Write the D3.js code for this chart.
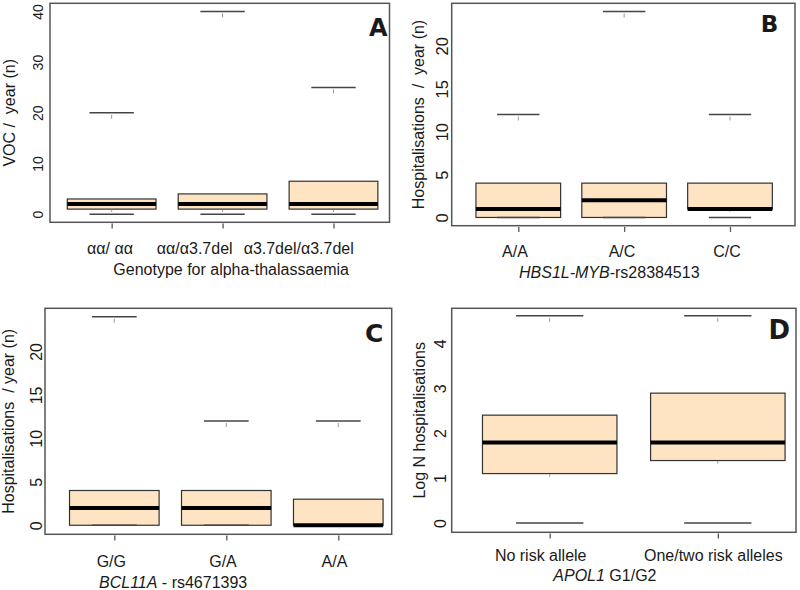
<!DOCTYPE html>
<html><head><meta charset="utf-8">
<script src="https://cdn.jsdelivr.net/npm/d3@7"></script>
<style>
html,body{margin:0;padding:0;background:#fff;}
svg{display:block;}
text{font-family:"Liberation Sans",Arial,sans-serif;fill:#1a1a1a;}
</style></head>
<body>
<svg id="chart" width="800" height="590"></svg>
<script>
// ---- Data ----
const aCategories = ["αα/ αα", "αα/α3.7del", "α3.7del/α3.7del"];
const aLow    = [0, 0, 0];
const aQ1     = [1, 1, 1];
const aMedian = [2, 2, 2];
const aQ3     = [3, 4, 6.5];
const aHigh   = [20, 40, 25];
const aYTicks = [0, 10, 20, 30, 40];

const bCategories = ["A/A", "A/C", "C/C"];
const bLow    = [0, 0, 0];
const bQ1     = [0, 0, 1];
const bMedian = [1, 2, 1];
const bQ3     = [4, 4, 4];
const bHigh   = [12, 24, 12];
const bYTicks = [0, 5, 10, 15, 20];

const cCategories = ["G/G", "G/A", "A/A"];
const cLow    = [0, 0, 0];
const cQ1     = [0, 0, 0];
const cMedian = [2, 2, 0];
const cQ3     = [4, 4, 3];
const cHigh   = [24, 12, 12];
const cYTicks = [0, 5, 10, 15, 20];

const dCategories = ["No risk allele", "One/two risk alleles"];
const dLow    = [0, 0];
const dQ1     = [1.10, 1.39];
const dMedian = [1.79, 1.79];
const dQ3     = [2.40, 2.89];
const dHigh   = [4.61, 4.61];
const dYTicks = [0, 1, 2, 3, 4];

// ---- Layout ----
const panels = [
  {cats:aCategories, low:aLow, q1:aQ1, med:aMedian, q3:aQ3, high:aHigh, yTicks:aYTicks,
   letter:"A", yTitle:[{t:"VOC /  year (n)"}], xTitle:[{t:"Genotype for alpha-thalassaemia"}],
   L:{left:50, right:389.5, top:3.3, bottom:222.3, xDomain:[0.444,3.505], yDomain:[-1.6,41.6],
      labelX:[110,194.7,298.7], labelY:254, tickFont:14, tickGap:6.7, yTitleX:14.5,
      letterX:387.7, letterY:36, letterSize:24, titleX:113.3, titleY:275}},
  {cats:bCategories, low:bLow, q1:bQ1, med:bMedian, q3:bQ3, high:bHigh, yTicks:bYTicks,
   letter:"B", yTitle:[{t:"Hospitalisations  /  year (n)"}], xTitle:[{t:"HBS1L-MYB", i:true},{t:"-rs28384513"}],
   L:{left:451.7, right:795, top:3.3, bottom:225.7, xDomain:[0.371,3.614], yDomain:[-0.96,24.96],
      labelX:[515,622,727], labelY:256.5, tickFont:16.5, tickGap:3.4, yTitleX:424,
      letterX:778.3, letterY:31.7, letterSize:23, titleX:519, titleY:277.7}},
  {cats:cCategories, low:cLow, q1:cQ1, med:cMedian, q3:cQ3, high:cHigh, yTicks:cYTicks,
   letter:"C", yTitle:[{t:"Hospitalisations  / year (n)"}], xTitle:[{t:"BCL11A", i:true},{t:" - rs4671393"}],
   L:{left:45, right:391.7, top:308.3, bottom:534.3, xDomain:[0.381,3.477], yDomain:[-1.04,24.97],
      labelX:[111.3,223,334.5], labelY:566.5, tickFont:16, tickGap:3.3, yTitleX:14,
      letterX:383.3, letterY:341.7, letterSize:25, titleX:99, titleY:588.3}},
  {cats:dCategories, low:dLow, q1:dQ1, med:dMedian, q3:dQ3, high:dHigh, yTicks:dYTicks,
   letter:"D", yTitle:[{t:"Log N hospitalisations"}], xTitle:[{t:"APOL1", i:true},{t:" G1/G2"}],
   L:{left:451.7, right:796, top:308.3, bottom:532.3, xDomain:[0.417,2.465], yDomain:[-0.207,4.778],
      labelX:[540.7,713.3], labelY:560.5, tickFont:16, tickGap:6, yTitleX:425,
      letterX:790, letterY:339.3, letterSize:26, titleX:553.3, titleY:580.7}}
];

const svg = d3.select("#chart");
const FILL = "#FFE4C4";

panels.forEach(p => {
  const L = p.L;
  const x = d3.scaleLinear().domain(L.xDomain).range([L.left, L.right]);
  const y = d3.scaleLinear().domain(L.yDomain).range([L.bottom, L.top]);
  const g = svg.append("g");
  const idx = p.cats.map((c,i)=>i);
  const pos = i => i + 1;

  // boxes
  g.selectAll("rect.box").data(idx).join("rect")
    .attr("x", i => x(pos(i) - 0.4))
    .attr("width", i => x(pos(i) + 0.4) - x(pos(i) - 0.4))
    .attr("y", i => y(p.q3[i]))
    .attr("height", i => y(p.q1[i]) - y(p.q3[i]))
    .attr("fill", FILL).attr("stroke", "#333").attr("stroke-width", 1.2);

  // caps
  g.selectAll("line.capHi").data(idx).join("line")
    .attr("x1", i => x(pos(i) - 0.2)).attr("x2", i => x(pos(i) + 0.2))
    .attr("y1", i => y(p.high[i])).attr("y2", i => y(p.high[i]))
    .attr("stroke", "#444").attr("stroke-width", 1.5);
  g.selectAll("line.capLo").data(idx).join("line")
    .attr("x1", i => x(pos(i) - 0.2)).attr("x2", i => x(pos(i) + 0.2))
    .attr("y1", i => y(p.low[i])).attr("y2", i => y(p.low[i]))
    .attr("stroke", "#444").attr("stroke-width", 1.5);

  // whisker fragments
  g.selectAll("line.wHi").data(idx).join("line")
    .attr("x1", i => x(pos(i))).attr("x2", i => x(pos(i)))
    .attr("y1", i => y(p.high[i]) + 2).attr("y2", i => y(p.high[i]) + 6)
    .attr("stroke", "#999").attr("stroke-width", 1);
  g.selectAll("line.wLo").data(idx.filter(i => p.low[i] < p.q1[i])).join("line")
    .attr("x1", i => x(pos(i))).attr("x2", i => x(pos(i)))
    .attr("y1", i => y(p.q1[i]) + 0.5).attr("y2", i => y(p.q1[i]) + 3)
    .attr("stroke", "#999").attr("stroke-width", 1);

  // medians
  g.selectAll("line.med").data(idx).join("line")
    .attr("x1", i => x(pos(i) - 0.4)).attr("x2", i => x(pos(i) + 0.4))
    .attr("y1", i => y(p.med[i])).attr("y2", i => y(p.med[i]))
    .attr("stroke", "#000").attr("stroke-width", 4);

  // frame
  g.append("rect").attr("x", L.left).attr("y", L.top)
    .attr("width", L.right - L.left).attr("height", L.bottom - L.top)
    .attr("fill", "none").attr("stroke", "#555").attr("stroke-width", 1.5);

  // x axis ticks
  const xa = g.append("g").attr("transform", `translate(0,${L.bottom + 1.2})`)
    .call(d3.axisBottom(x).tickValues(idx.map(pos)).tickSize(5).tickSizeOuter(0).tickFormat(""));
  xa.select(".domain").remove();
  xa.selectAll(".tick line").attr("stroke", "#555").attr("stroke-width", 1.3);

  // x labels
  g.selectAll("text.xl").data(idx).join("text")
    .attr("x", i => L.labelX[i]).attr("y", L.labelY)
    .attr("text-anchor", "middle").style("font-size", "16px")
    .text(i => p.cats[i]);

  // y axis labels (rotated, no tick marks)
  const ya = g.append("g").attr("transform", `translate(${L.left},0)`)
    .call(d3.axisLeft(y).tickValues(p.yTicks).tickSize(0).tickFormat(d3.format("d")));
  ya.select(".domain").remove();
  ya.selectAll(".tick text")
    .attr("transform", "rotate(-90)")
    .attr("x", 0).attr("y", -L.tickGap).attr("dy", null)
    .attr("text-anchor", "middle")
    .style("font-family", '"Liberation Sans",Arial,sans-serif')
    .style("font-size", L.tickFont + "px").attr("fill", "#1a1a1a");

  // y title
  const yt = g.append("text")
    .attr("transform", `translate(${L.yTitleX},${(L.top + L.bottom) / 2}) rotate(-90)`)
    .attr("text-anchor", "middle").style("font-size", "16px");
  p.yTitle.forEach(s => yt.append("tspan").text(s.t).attr("xml:space","preserve"));
  yt.style("white-space", "pre");

  // x title
  const xt = g.append("text").attr("x", L.titleX).attr("y", L.titleY)
    .style("font-size", "16px").style("white-space", "pre");
  p.xTitle.forEach(s => xt.append("tspan").text(s.t).style("font-style", s.i ? "italic" : "normal"));

  // panel letter
  g.append("text").attr("x", L.letterX).attr("y", L.letterY)
    .attr("text-anchor", "end")
    .style("font-family", '"DejaVu Sans",sans-serif').style("font-weight", "bold")
    .style("font-size", L.letterSize + "px").attr("fill", "#000")
    .text(p.letter);
});
</script>
</body></html>
